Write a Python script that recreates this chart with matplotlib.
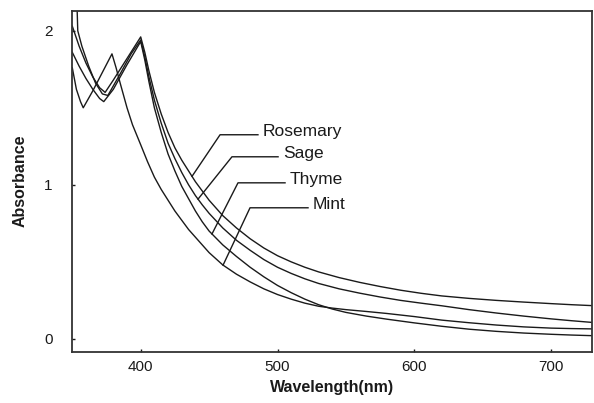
import numpy as np
import matplotlib
matplotlib.use("Agg")
import matplotlib.pyplot as plt

# wavelength grids (nm) and absorbance
rosemary_nm = [350, 355, 360, 365, 370, 374, 380, 390, 400, 403, 406, 410, 415, 420,
               425, 430, 435, 440, 445, 450, 460, 470, 480, 490, 500, 510, 520, 530,
               545, 560, 575, 590, 605, 620, 640, 660, 680, 700, 715, 730]
rosemary_abs = [2.03, 1.90, 1.79, 1.70, 1.63, 1.60, 1.68, 1.82, 1.96, 1.86, 1.74, 1.60,
                1.46, 1.34, 1.24, 1.16, 1.09, 1.02, 0.96, 0.90, 0.80, 0.72, 0.65,
                0.59, 0.54, 0.50, 0.465, 0.435, 0.398, 0.367, 0.34, 0.316, 0.296,
                0.279, 0.263, 0.25, 0.239, 0.229, 0.222, 0.216]

sage_nm = [350, 353, 354, 357, 362, 367, 372, 376, 385, 393, 400, 403, 406, 410, 415,
           420, 425, 430, 435, 440, 445, 450, 460, 470, 480, 490, 500, 510, 520, 530,
           545, 560, 575, 590, 605, 620, 640, 660, 680, 700, 715, 730]
sage_abs = [3.00, 2.30, 2.00, 1.90, 1.77, 1.66, 1.59, 1.58, 1.72, 1.85, 1.94, 1.83,
            1.70, 1.55, 1.40, 1.27, 1.17, 1.08, 1.00, 0.93, 0.87, 0.815, 0.72, 0.64,
            0.575, 0.515, 0.465, 0.425, 0.39, 0.36, 0.325, 0.297, 0.272, 0.25, 0.232,
            0.215, 0.19, 0.168, 0.148, 0.13, 0.118, 0.107]

thyme_nm = [350, 355, 360, 365, 370, 373, 380, 390, 400, 403, 406, 410, 415, 420, 425,
            430, 435, 440, 445, 450, 460, 470, 480, 490, 500, 510, 520, 530, 540, 550,
            565, 580, 600, 620, 640, 660, 680, 700, 715, 730]
thyme_abs = [1.86, 1.77, 1.69, 1.62, 1.56, 1.54, 1.62, 1.78, 1.93, 1.81, 1.67, 1.50,
             1.34, 1.20, 1.09, 0.99, 0.91, 0.83, 0.76, 0.70, 0.61, 0.535, 0.465, 0.403,
             0.347, 0.30, 0.258, 0.222, 0.194, 0.172, 0.148, 0.128, 0.104, 0.082,
             0.063, 0.049, 0.038, 0.03, 0.025, 0.021]

mint_nm = [350, 353, 356, 358, 365, 372, 379, 382, 385, 390, 394, 400, 405, 410, 415,
           420, 425, 430, 435, 440, 445, 450, 460, 470, 480, 490, 500, 510, 520, 530,
           540, 550, 565, 580, 600, 620, 640, 660, 680, 700, 715, 730]
mint_abs = [1.76, 1.62, 1.54, 1.50, 1.61, 1.73, 1.85, 1.76, 1.66, 1.50, 1.39, 1.26,
            1.15, 1.05, 0.97, 0.90, 0.83, 0.77, 0.71, 0.66, 0.61, 0.56, 0.48, 0.42,
            0.37, 0.325, 0.288, 0.258, 0.232, 0.212, 0.20, 0.19, 0.178, 0.165, 0.145,
            0.122, 0.105, 0.09, 0.078, 0.07, 0.067, 0.065]

series = {
    "Rosemary": (rosemary_nm, rosemary_abs),
    "Sage": (sage_nm, sage_abs),
    "Thyme": (thyme_nm, thyme_abs),
    "Mint": (mint_nm, mint_abs),
}

# where each leader touches its curve, and where the label text sits
leaders = {
    "Rosemary": (437.5, 458.0, 485.7, 1.325),
    "Sage": (441.9, 466.7, 500.4, 1.182),
    "Thyme": (452.1, 471.1, 505.5, 1.013),
    "Mint": (460.2, 479.9, 522.3, 0.851),
}

plt.rcParams["font.family"] = ["Liberation Sans", "DejaVu Sans"]

fig = plt.figure(figsize=(5.94, 4.03), dpi=100)
ax = fig.add_axes([0.1217, 0.1273, 0.997 - 0.1217, 0.9734 - 0.1273])

ink = "#1a1a1a"
for name, (nm, ab) in series.items():
    ax.plot(nm, ab, color=ink, lw=1.0)
    x_end, x_knee, x_right, y_knee = leaders[name]
    y_end = np.interp(x_end, nm, ab)
    ax.plot([x_end, x_knee, x_right], [y_end, y_knee, y_knee], color=ink, lw=1.0)
    ax.text(x_right + 3.5, y_knee + 0.02, name, fontsize=12.5, color=ink,
            ha="left", va="center")

ax.set_xlim(350, 730)
ax.set_ylim(-0.083, 2.13)
ax.set_xticks([400, 500, 600, 700])
ax.set_yticks([0, 1, 2])
ax.tick_params(direction="in", length=2.5, width=1.0, colors=ink, labelsize=11,
               labelcolor=ink)
ax.tick_params(axis="x", pad=6)
ax.tick_params(axis="y", pad=14)
for s in ax.spines.values():
    s.set_linewidth(1.3)
    s.set_color("#333333")

ax.set_xlabel("Wavelength(nm)", fontsize=11.5, fontweight="bold", color=ink, labelpad=4)
ax.set_ylabel("Absorbance", fontsize=11.5, fontweight="bold", color=ink, labelpad=12)

fig.savefig("out.png", dpi=100)
